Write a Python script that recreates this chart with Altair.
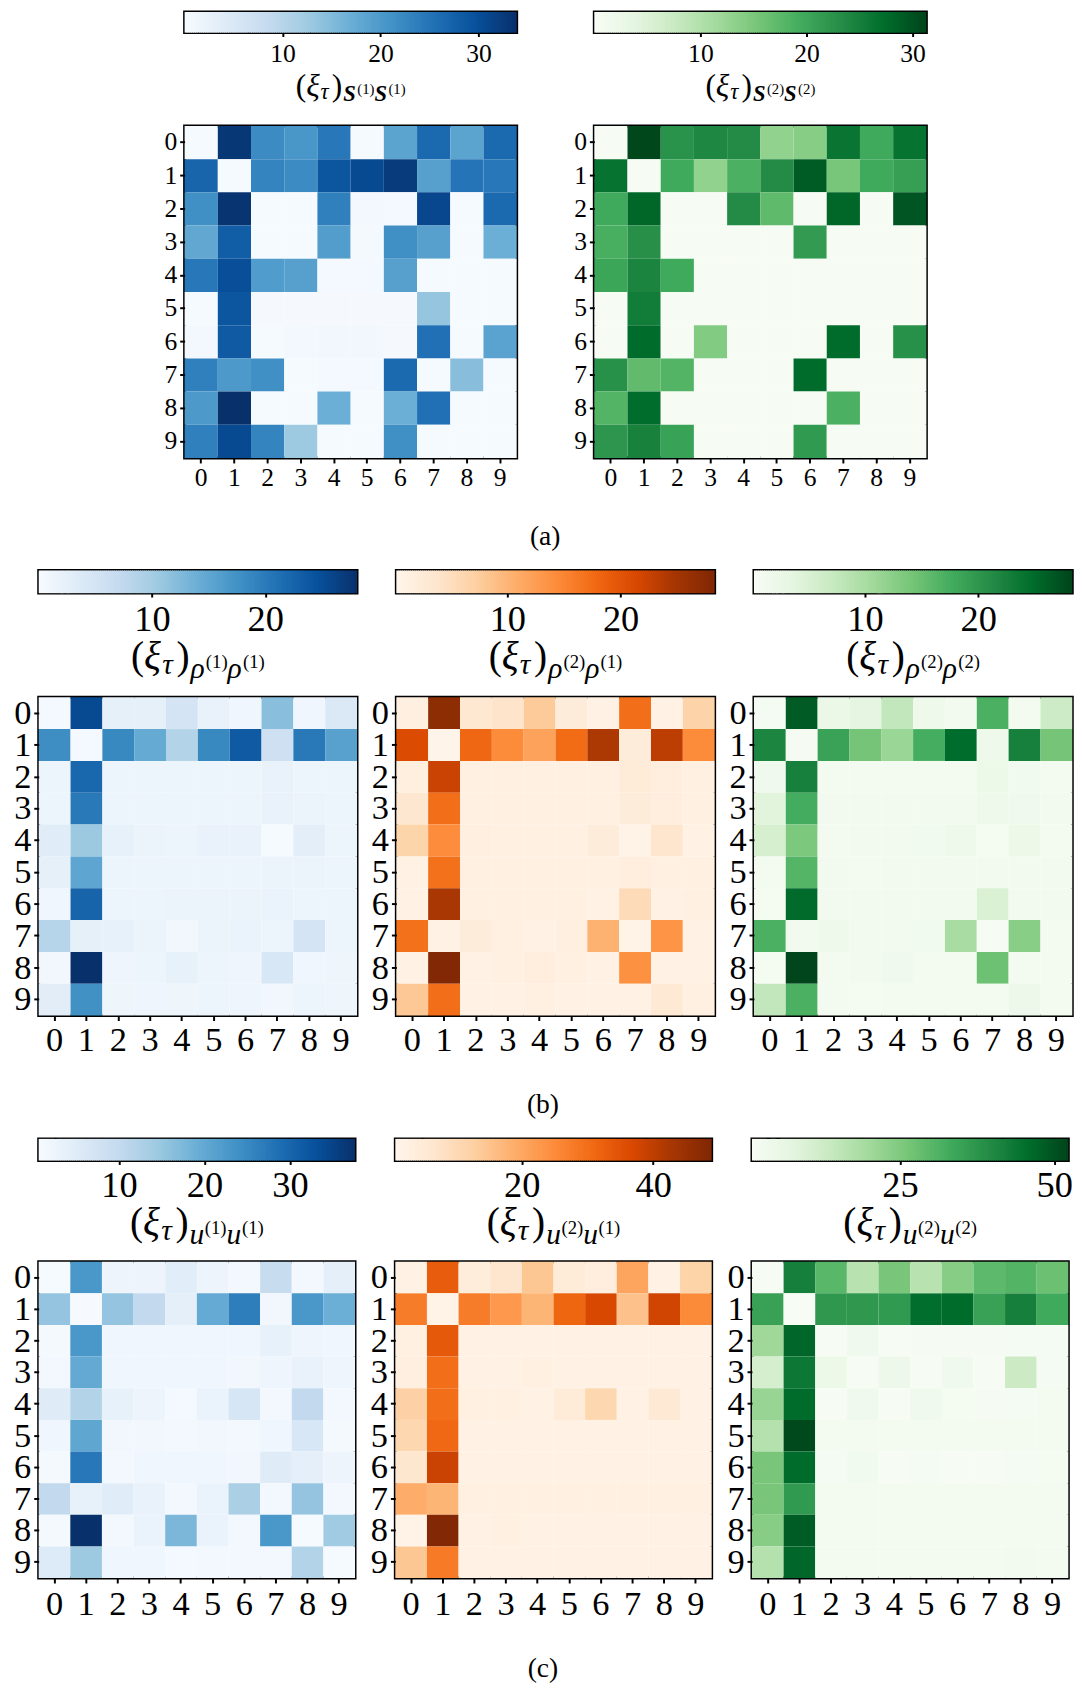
import altair as alt
import numpy as np
import pandas as pd

FONT = "Liberation Serif, DejaVu Serif, serif"

BLUES = ["#f7fbff", "#deebf7", "#c6dbef", "#9ecae1", "#6baed6", "#4292c6", "#2171b5", "#08519c", "#08306b"]
ORANGES = ["#fff5eb", "#fee6ce", "#fdd0a2", "#fdae6b", "#fd8d3c", "#f16913", "#d94801", "#a63603", "#7f2704"]
GREENS = ["#f7fcf5", "#e5f5e0", "#c7e9c0", "#a1d99b", "#74c476", "#41ab5d", "#238b45", "#006d2c", "#00441b"]

CATS = list(range(10))

# ---- (a) ----
S1S1 = [
    [0.3, 33.0, 22.0, 20.5, 24.5, 0.3, 18.5, 26.5, 18.5, 26.5],
    [27.0, 0.3, 23.0, 22.0, 29.0, 30.5, 32.5, 19.0, 25.0, 24.5],
    [21.5, 33.3, 0.3, 0.3, 23.5, 0.8, 0.6, 31.0, 0.3, 26.5],
    [18.0, 28.0, 0.3, 0.3, 19.5, 0.5, 21.5, 19.0, 0.3, 17.0],
    [24.5, 30.0, 19.7, 19.0, 0.6, 0.6, 19.0, 0.3, 0.3, 0.3],
    [0.3, 29.0, 0.4, 0.4, 0.4, 0.4, 0.4, 13.5, 0.3, 0.3],
    [0.7, 28.5, 0.3, 0.8, 1.0, 1.0, 0.4, 25.5, 0.3, 18.7],
    [23.5, 20.0, 21.5, 0.3, 0.6, 0.6, 26.5, 0.3, 14.5, 0.3],
    [20.0, 33.9, 0.3, 0.3, 17.0, 0.3, 17.0, 25.5, 0.3, 0.3],
    [23.5, 30.5, 23.0, 12.7, 0.3, 0.3, 21.5, 0.3, 0.3, 0.3],
]
S2S2 = [
    [0.3, 31.0, 22.5, 24.0, 23.5, 13.0, 14.0, 26.3, 19.7, 26.6],
    [26.6, 0.3, 19.7, 13.0, 18.8, 23.5, 29.0, 15.3, 19.7, 21.0],
    [19.7, 28.0, 0.3, 0.3, 23.5, 17.2, 0.3, 28.0, 0.3, 29.7],
    [19.0, 23.0, 0.3, 0.3, 0.3, 0.3, 21.5, 0.3, 0.3, 0.3],
    [20.3, 24.4, 19.7, 0.3, 0.3, 0.3, 0.3, 0.3, 0.3, 0.3],
    [0.3, 25.4, 0.3, 0.3, 0.3, 0.3, 0.3, 0.3, 0.3, 0.3],
    [0.3, 27.5, 0.3, 14.4, 0.3, 0.3, 0.3, 27.5, 0.3, 22.8],
    [22.8, 17.0, 18.2, 0.3, 0.3, 0.3, 27.5, 0.3, 0.3, 0.3],
    [18.2, 27.4, 0.3, 0.3, 0.3, 0.3, 0.3, 18.8, 0.3, 0.3],
    [22.2, 24.7, 20.7, 0.3, 0.3, 0.3, 21.6, 0.3, 0.3, 0.3],
]

# ---- (b) ----
RHO11 = [
    [0.5, 25.3, 2.5, 2.5, 5.0, 2.0, 1.0, 12.0, 1.0, 4.0],
    [18.0, 0.5, 18.5, 14.6, 8.7, 18.5, 23.6, 5.9, 20.2, 15.7],
    [1.5, 22.2, 1.5, 1.5, 1.5, 1.5, 1.5, 2.0, 1.5, 1.5],
    [1.5, 20.2, 1.5, 1.5, 1.5, 1.5, 1.5, 2.0, 1.6, 1.5],
    [3.2, 10.7, 2.2, 1.6, 1.5, 2.0, 2.0, 0.3, 2.8, 1.5],
    [2.5, 15.2, 1.4, 1.5, 1.5, 1.5, 1.5, 1.6, 1.6, 1.4],
    [1.0, 22.5, 1.4, 1.5, 1.6, 1.6, 1.6, 1.8, 1.5, 1.4],
    [8.4, 2.5, 2.2, 1.6, 0.9, 1.6, 1.8, 1.4, 5.0, 1.4],
    [0.8, 28.0, 1.3, 1.5, 2.2, 1.5, 1.3, 4.5, 1.0, 1.2],
    [3.0, 17.7, 1.2, 1.3, 1.2, 1.4, 1.3, 0.9, 1.5, 1.2],
]
RHO21 = [
    [1.5, 27.0, 3.2, 4.0, 7.8, 2.2, 1.2, 17.3, 1.0, 6.7],
    [21.0, 0.5, 18.0, 14.4, 12.0, 17.5, 24.4, 2.2, 23.2, 14.4],
    [1.6, 22.3, 1.3, 1.3, 1.3, 1.3, 1.3, 2.5, 1.8, 1.3],
    [3.5, 17.3, 1.3, 1.3, 1.3, 1.3, 1.3, 2.3, 1.9, 1.3],
    [6.5, 14.2, 1.5, 1.3, 1.3, 1.3, 2.3, 0.8, 3.8, 1.0],
    [1.2, 17.0, 1.3, 1.3, 1.3, 1.3, 1.3, 1.8, 1.3, 1.3],
    [1.0, 24.6, 1.4, 1.4, 1.4, 1.4, 1.2, 5.5, 1.2, 1.4],
    [17.0, 1.0, 2.2, 1.4, 1.2, 1.5, 10.3, 0.6, 13.5, 1.2],
    [1.2, 28.0, 1.2, 1.3, 1.8, 1.4, 1.2, 13.8, 1.2, 1.2],
    [8.0, 17.3, 1.0, 1.2, 1.3, 1.2, 1.2, 1.1, 3.0, 1.3],
]
RHO22 = [
    [0.7, 26.3, 2.5, 3.5, 7.6, 1.8, 1.2, 17.0, 1.0, 6.5],
    [22.0, 0.5, 18.7, 14.2, 11.3, 17.5, 24.8, 1.8, 22.6, 14.2],
    [1.5, 22.6, 1.0, 1.0, 1.0, 1.0, 1.0, 2.3, 1.3, 1.0],
    [4.0, 17.6, 1.2, 1.2, 1.2, 1.2, 1.2, 1.8, 1.6, 1.2],
    [5.6, 13.6, 1.0, 1.2, 1.2, 1.3, 1.8, 0.8, 2.2, 1.0],
    [1.0, 16.4, 1.2, 0.9, 1.1, 1.1, 1.1, 1.1, 1.1, 1.1],
    [0.8, 25.0, 1.1, 1.1, 1.1, 1.1, 1.1, 5.0, 1.1, 1.2],
    [17.0, 1.2, 1.8, 1.2, 1.2, 1.3, 10.0, 0.3, 12.6, 1.0],
    [0.8, 28.2, 1.0, 1.2, 1.6, 1.0, 1.0, 14.7, 1.0, 1.0],
    [7.6, 17.0, 1.0, 0.8, 1.0, 1.0, 1.0, 1.0, 2.0, 1.0],
]

# ---- (c) ----
U11 = [
    [1.0, 22.8, 2.5, 2.5, 4.6, 2.5, 1.5, 9.5, 1.5, 4.0],
    [15.4, 0.8, 15.4, 10.2, 4.2, 19.8, 26.5, 1.8, 22.8, 19.0],
    [1.2, 22.8, 2.0, 2.0, 2.0, 2.0, 2.0, 3.5, 2.2, 2.0],
    [1.6, 20.0, 2.0, 2.0, 2.0, 2.0, 1.8, 2.2, 3.2, 2.2],
    [5.0, 12.0, 3.5, 2.5, 1.3, 3.0, 6.8, 1.4, 10.2, 1.4],
    [2.0, 20.5, 1.8, 1.8, 1.6, 1.8, 1.4, 2.0, 6.5, 1.2],
    [1.2, 27.3, 1.6, 2.0, 2.0, 2.0, 1.8, 5.0, 4.0, 2.5],
    [10.2, 3.5, 4.8, 3.2, 1.5, 3.0, 13.0, 1.4, 15.4, 1.4],
    [1.2, 37.5, 1.6, 3.0, 17.6, 3.0, 1.5, 22.8, 1.0, 14.3],
    [5.5, 14.6, 2.0, 2.0, 1.3, 1.5, 1.5, 1.4, 12.0, 1.0],
]
U21 = [
    [2.5, 33.0, 4.0, 6.7, 14.3, 4.5, 3.5, 20.5, 2.0, 12.0],
    [27.6, 1.5, 27.6, 22.8, 17.6, 31.4, 37.0, 15.2, 38.0, 25.2],
    [2.8, 33.8, 2.5, 2.5, 2.5, 2.5, 2.5, 2.5, 2.5, 2.5],
    [3.0, 30.0, 2.5, 2.5, 2.8, 2.5, 2.3, 2.5, 2.5, 2.5],
    [12.4, 30.0, 2.8, 2.8, 2.0, 4.5, 11.0, 2.0, 5.5, 2.5],
    [11.0, 31.0, 2.5, 2.5, 2.5, 2.5, 2.5, 2.5, 2.5, 2.5],
    [6.5, 38.5, 2.3, 2.3, 2.3, 2.3, 2.3, 2.3, 2.3, 2.3],
    [19.0, 17.6, 2.8, 2.8, 2.8, 2.8, 2.8, 2.8, 2.8, 2.8],
    [1.8, 48.5, 2.5, 2.8, 2.5, 2.5, 2.5, 2.5, 2.5, 2.5],
    [14.3, 28.0, 2.2, 2.4, 2.2, 2.2, 2.2, 2.0, 2.5, 2.3],
]
U22 = [
    [1.5, 42.0, 30.0, 16.4, 26.0, 16.4, 24.0, 29.5, 30.7, 27.7],
    [35.0, 1.0, 37.0, 37.0, 36.4, 45.6, 46.0, 35.0, 42.0, 33.3],
    [20.5, 47.0, 1.5, 3.5, 1.2, 1.8, 1.8, 1.8, 2.0, 2.0],
    [11.0, 43.5, 5.0, 1.5, 4.5, 1.5, 3.5, 1.5, 12.8, 2.0],
    [21.5, 46.0, 1.5, 3.5, 1.3, 3.5, 2.2, 1.8, 2.0, 2.5],
    [17.0, 51.5, 2.3, 2.3, 2.3, 2.3, 2.3, 2.3, 2.3, 2.3],
    [26.0, 46.0, 2.0, 3.2, 1.3, 2.0, 1.5, 1.5, 2.0, 2.2],
    [26.0, 36.4, 2.5, 2.5, 2.5, 2.5, 2.5, 2.5, 2.5, 2.5],
    [24.0, 48.5, 2.5, 2.5, 2.5, 2.5, 2.5, 2.5, 2.5, 2.5],
    [17.0, 47.0, 2.3, 2.3, 2.3, 2.3, 2.3, 2.3, 2.8, 2.3],
]

# colorbar ranges and ticks
DOM_A = [(0.0, 33.9), (0.0, 31.3)]
DOM_B = [(0.0, 28.1), (0.2, 28.3), (0.2, 28.3)]
DOM_C = [(0.6, 37.6), (0.75, 48.9), (1.0, 52.3)]
TICKS_A = [[10, 20, 30], [10, 20, 30]]
TICKS_B = [[10, 20], [10, 20], [10, 20]]
TICKS_C = [[10, 20, 30], [20, 40], [25, 50]]

CHAR_W = {"(": 0.333, ")": 0.333, "ξ": 0.46, "τ": 0.45, "ρ": 0.52, "u": 0.52,
          "S": 0.62, "1": 0.5, "2": 0.5}


def seg_layers(segs, width, base_y):
    widths = [sum(CHAR_W.get(ch, 0.5) for ch in t) * s + g for (t, s, dy, st, wt, g) in segs]
    x = width / 2 - sum(widths) / 2
    layers = []
    for (t, s, dy, st, wt, g), w in zip(segs, widths):
        layers.append(
            alt.Chart(alt.InlineData(values=[{"k": 0}]))
            .mark_text(text=t, font=FONT, fontSize=s, fontStyle=st, fontWeight=wt,
                       align="left", baseline="alphabetic", color="black")
            .encode(x=alt.value(x), y=alt.value(base_y + dy))
        )
        x += w
    return layers


def title_segs(sym, ia, ib, bold, c):
    F, Fs, Fss = c["F"], c["Fs"], c["Fss"]
    wt = "bold" if bold else "normal"
    return [
        ("(", F, 0, "normal", "normal", 0),
        ("ξ", F, 0, "italic", "normal", 0),
        ("τ", Fs, c["dtau"], "italic", "normal", 1),
        (")", F, 0, "normal", "normal", 1),
        (sym, Fs, c["dsub"], "italic", wt, 0),
        (f"({ia})", Fss, c["dsup"], "normal", "normal", 0),
        (sym, Fs, c["dsub"], "italic", wt, 0),
        (f"({ib})", Fss, c["dsup"], "normal", "normal", 0),
    ]


def make_panel(mat, colors, dom, ticks, sym, ia, ib, bold, c):
    side = c["side"]
    stops = np.linspace(dom[0], dom[1], len(colors)).tolist()
    cscale = alt.Scale(domain=stops, range=colors, interpolate="rgb", clamp=True)

    n = 160
    edges = np.linspace(dom[0], dom[1], n + 1)
    step = (dom[1] - dom[0]) / n
    cb = pd.DataFrame({
        "v0": edges[:-1],
        "v1": np.minimum(edges[1:] + 0.4 * step, dom[1]),
        "vm": (edges[:-1] + edges[1:]) / 2,
    })
    bar = alt.Chart(cb).mark_rect().encode(
        x=alt.X("v0:Q", scale=alt.Scale(domain=list(dom), nice=False, zero=False),
                axis=alt.Axis(values=ticks, format="d", labelFontSize=c["tick_fs"],
                              tickSize=c["cb_tick"], tickWidth=2, labelPadding=c["cb_pad"],
                              title=None, domain=False, grid=False, labelFlush=False,
                              labelOverlap=False, labelFont=FONT)),
        x2="v1:Q",
        color=alt.Color("vm:Q", scale=cscale, legend=None),
    ).properties(width=side, height=c["cbar_h"])
    texts = seg_layers(title_segs(sym, ia, ib, bold, c), side, c["base"])
    cbar = alt.layer(bar, *texts)

    rows = []
    for r, line in zip(CATS, mat):
        for col, v in zip(CATS, line):
            rows.append({"row": r, "col": col, "value": v})
    df = pd.DataFrame(rows)
    heat = alt.Chart(df).mark_rect().encode(
        x=alt.X("col:O", axis=alt.Axis(labelAngle=0, labelFontSize=c["lab_fs"], tickSize=5,
                                        tickWidth=2, labelPadding=c["xpad"], title=None,
                                        domain=False, labelFont=FONT)),
        y=alt.Y("row:O", axis=alt.Axis(labelFontSize=c["lab_fs"], tickSize=5, tickWidth=2,
                                        labelPadding=c["ypad"], title=None, domain=False,
                                        labelFont=FONT)),
        color=alt.Color("value:Q", scale=cscale, legend=None),
    ).properties(width=side, height=side)
    return alt.vconcat(cbar, heat, spacing=c["gap"], bounds="flush").resolve_scale(color="independent")


CFG_A = dict(side=338, cbar_h=21, gap=95, lab_fs=26, tick_fs=26, cb_tick=4, cb_pad=4,
             xpad=2, ypad=3, F=32, Fs=23, Fss=15, base=85, dtau=4, dsub=6, dsup=-2)
CFG_B = dict(side=324, cbar_h=23, gap=106, lab_fs=35, tick_fs=37, cb_tick=4, cb_pad=5,
             xpad=3, ypad=3, F=40, Fs=30, Fss=19, base=100, dtau=5, dsub=9, dsup=-1)
CFG_C = dict(side=322, cbar_h=22, gap=103, lab_fs=35, tick_fs=37, cb_tick=4, cb_pad=4,
             xpad=4, ypad=3, F=40, Fs=30, Fss=19, base=98, dtau=5, dsub=9, dsup=-1)


def sub_title(txt, off):
    return alt.TitleParams(txt, orient="bottom", anchor="middle", fontSize=28, font=FONT,
                           fontWeight="normal", color="black", offset=off)


row_a = alt.hconcat(
    make_panel(S1S1, BLUES, DOM_A[0], TICKS_A[0], "S", 1, 1, True, CFG_A),
    make_panel(S2S2, GREENS, DOM_A[1], TICKS_A[1], "S", 2, 2, True, CFG_A),
    spacing=54, title=sub_title("(a)", 32),
).resolve_scale(color="independent")
row_b = alt.hconcat(
    make_panel(RHO11, BLUES, DOM_B[0], TICKS_B[0], "ρ", 1, 1, False, CFG_B),
    make_panel(RHO21, ORANGES, DOM_B[1], TICKS_B[1], "ρ", 2, 1, False, CFG_B),
    make_panel(RHO22, GREENS, DOM_B[2], TICKS_B[2], "ρ", 2, 2, False, CFG_B),
    spacing=11, title=sub_title("(b)", 33),
).resolve_scale(color="independent")
row_c = alt.hconcat(
    make_panel(U11, BLUES, DOM_C[0], TICKS_C[0], "u", 1, 1, False, CFG_C),
    make_panel(U21, ORANGES, DOM_C[1], TICKS_C[1], "u", 2, 1, False, CFG_C),
    make_panel(U22, GREENS, DOM_C[2], TICKS_C[2], "u", 2, 2, False, CFG_C),
    spacing=12, title=sub_title("(c)", 33),
).resolve_scale(color="independent")

chart = alt.vconcat(row_a, row_b, row_c, spacing=17.5, center=True).resolve_scale(
    color="independent"
).properties(
    padding={"left": 4, "top": -13, "right": 0, "bottom": 0}, background="white"
).configure(
    font=FONT
).configure_view(
    stroke="black", strokeWidth=3
).configure_axis(
    labelFont=FONT, labelColor="black", tickColor="black", grid=False
).configure_title(
    font=FONT
)

chart.save("out.html", embed_options={"renderer": "svg", "actions": False})
